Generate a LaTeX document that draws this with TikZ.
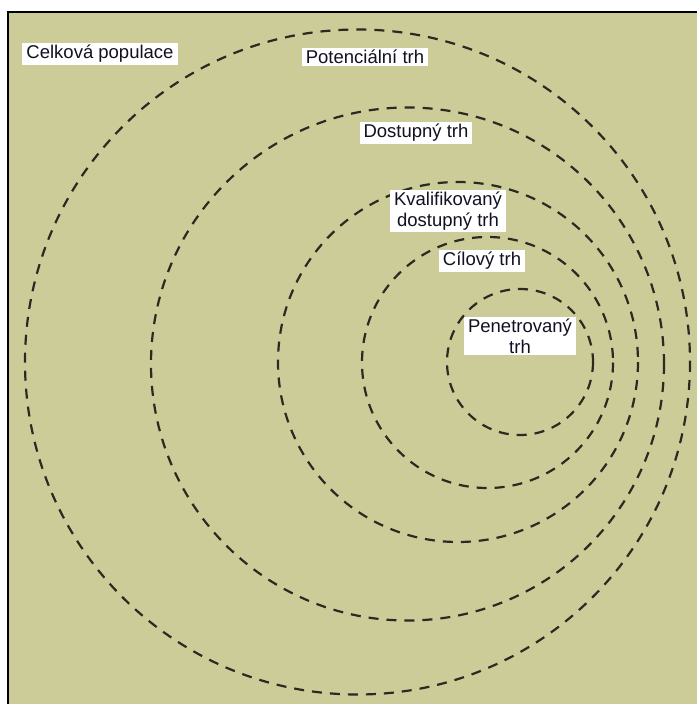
\documentclass[tikz,border=0pt]{standalone}
\usepackage{fontspec}
\setmainfont{Liberation Sans}
\definecolor{fieldbg}{HTML}{CCCC99}
\definecolor{ringline}{HTML}{2A2A22}
\definecolor{labeltext}{HTML}{111122}
\tikzset{
  ring/.style={draw=ringline, line width=2.2pt, dash pattern=on 10pt off 8pt},
  tag/.style={fill=white, text=labeltext, align=center, inner xsep=4pt, inner ysep=2pt,
              font=\fontsize{18.5}{21}\selectfont},
}
\begin{document}
\begin{tikzpicture}[x=1pt,y=-1pt]
  \useasboundingbox (0,0) rectangle (697,704);
  % field and its frame (top and left edges only)
  \fill[fieldbg] (8,12) rectangle (697,704);
  \draw[line width=2.5pt, black] (697,12) -- (8,12) -- (8,704);

  % ring centres
  \coordinate (c1) at (357.5,362);
  \coordinate (c2) at (407.5,364);
  \coordinate (c3) at (458,362);
  \coordinate (c4) at (487.5,362.5);
  \coordinate (c5) at (520,362);

  % nested market rings
  \draw[ring] (c1) circle[radius=332.5];
  \draw[ring] (c2) circle[radius=256.5];
  \draw[ring] (c3) circle[radius=180];
  \draw[ring] (c4) circle[radius=125.5];
  \draw[ring] (c5) circle[radius=73];

  % labels
  \node[tag] (celk) at (100,54) {Celková populace};
  \node[tag] (pot) at (365,57) {Potenciální trh};
  \node[tag] (dost) at (416,133) {Dostupný trh};
  \node[tag] (kval) at (448,211) {Kvalifikovaný\\dostupný trh};
  \node[tag] (cil) at (482,261) {Cílový trh};
  \node[tag] (pen) at (520,336) {Penetrovaný\\trh};
\end{tikzpicture}
\end{document}
